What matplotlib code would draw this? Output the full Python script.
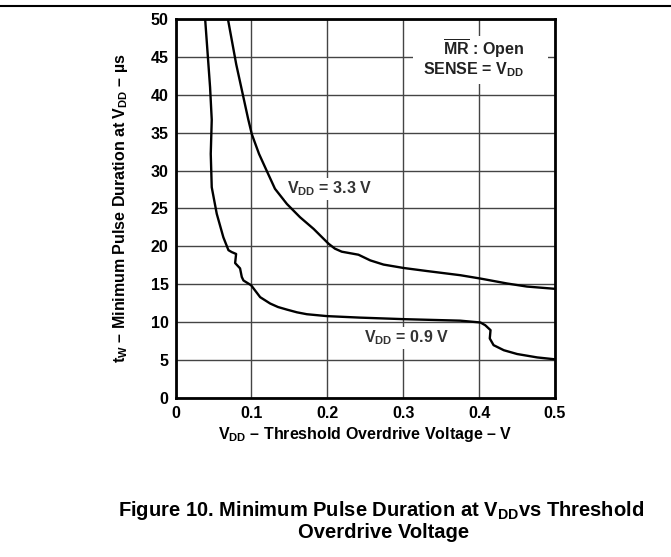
import matplotlib.pyplot as plt
import matplotlib.lines as mlines
from matplotlib.patches import Rectangle

plt.rcParams['font.family'] = ['Liberation Sans', 'DejaVu Sans']
plt.rcParams['font.weight'] = 'bold'
plt.rcParams['mathtext.fontset'] = 'custom'
plt.rcParams['mathtext.rm'] = 'Liberation Sans:bold'
plt.rcParams['mathtext.it'] = 'Liberation Sans:bold'
plt.rcParams['mathtext.bf'] = 'Liberation Sans:bold'
plt.rcParams['mathtext.default'] = 'rm'

# V_DD = 3.3 V curve
x33 = [0.069, 0.080, 0.0957, 0.1005, 0.110, 0.120, 0.131, 0.1467, 0.164, 0.182, 0.2016,
       0.210, 0.219, 0.230, 0.241, 0.2566, 0.274, 0.3005, 0.331, 0.375, 0.402, 0.437, 0.463, 0.5]
y33 = [50.0, 44.0, 36.8, 34.8, 32.2, 30.0, 27.6, 25.6, 23.85, 22.3, 20.35,
       19.7, 19.3, 19.1, 18.9, 18.15, 17.6, 17.15, 16.75, 16.2, 15.75, 15.1, 14.7, 14.4]

# V_DD = 0.9 V curve
x09 = [0.039, 0.0455, 0.0477, 0.0464, 0.0477, 0.0543, 0.063, 0.0697, 0.074, 0.0798,
       0.0785, 0.085, 0.0873, 0.0895, 0.0996, 0.1115, 0.1247, 0.135, 0.1467, 0.160, 0.173,
       0.1995, 0.2434, 0.3005, 0.375, 0.4017, 0.408, 0.415, 0.414, 0.419, 0.4325, 0.450,
       0.4765, 0.5]
y09 = [50.0, 41.0, 36.7, 32.2, 27.8, 24.3, 21.2, 19.5, 19.25, 19.0,
       17.8, 17.1, 15.96, 15.5, 14.87, 13.3, 12.46, 12.0, 11.66, 11.3, 11.05,
       10.8, 10.6, 10.4, 10.2, 9.96, 9.6, 8.95, 7.85, 6.97, 6.3, 5.8,
       5.35, 5.1]

xticks = [0, 0.1, 0.2, 0.3, 0.4, 0.5]
xticklabels = ['0', '0.1', '0.2', '0.3', '0.4', '0.5']
yticks = [0, 5, 10, 15, 20, 25, 30, 35, 40, 45, 50]

fig = plt.figure(figsize=(6.71, 5.57), dpi=100)
ax = fig.add_axes([0.2616, 0.2855, 0.5656, 0.6804])

ax.plot(x33, y33, color='black', lw=1.7, zorder=3)
ax.plot(x09, y09, color='black', lw=1.7, zorder=3)

ax.set_xlim(0, 0.5)
ax.set_ylim(0, 50)
ax.set_xticks(xticks)
ax.set_xticklabels(xticklabels)
ax.set_yticks(yticks)
ax.tick_params(length=0, labelsize=11.5)
ax.tick_params(axis='x', pad=6)
ax.tick_params(axis='y', pad=5)
ax.grid(True, color='#444444', lw=1.0)
for s in ax.spines.values():
    s.set_linewidth(2)

ax.set_xlabel(r'$V_{DD}$ – Threshold Overdrive Voltage – V', fontsize=11.5, fontweight='bold', labelpad=3)
ax.set_ylabel(r't$_W$ – Minimum Pulse Duration at $V_{DD}$ – µs', fontsize=11.5, fontweight='bold', labelpad=15)

# white patch behind the condition notes
ax.add_patch(Rectangle((0.3133, 41.45), 0.178, 6.3, facecolor='white', edgecolor='none', zorder=2.5))
ax.text(0.459, 46.1, r'$\overline{MR}$ : Open', ha='right', va='center', fontsize=11.5, color='#222222', zorder=4)
ax.text(0.459, 43.3, r'SENSE = $V_{DD}$', ha='right', va='center', fontsize=11.5, color='#222222', zorder=4)

box = dict(facecolor='white', edgecolor='none', pad=1)
ax.text(0.2025, 27.6, r'$V_{DD}$ = 3.3 V', ha='center', va='center', fontsize=11.5, color='#333333', bbox=box, zorder=4)
ax.text(0.304, 7.9, r'$V_{DD}$ = 0.9 V', ha='center', va='center', fontsize=11.5, color='#333333', bbox=box, zorder=4)

fig.add_artist(mlines.Line2D([0, 1], [1 - 6 / 557, 1 - 6 / 557], color='black', lw=1.5))
fig.text(0.568, 1 - 511 / 557, r'Figure 10. Minimum Pulse Duration at $V_{DD}$vs Threshold',
         ha='center', va='center', fontsize=14.5, fontweight='bold')
fig.text(0.571, 1 - 533 / 557, 'Overdrive Voltage', ha='center', va='center', fontsize=14.5, fontweight='bold')

fig.savefig('out.png', dpi=100)
